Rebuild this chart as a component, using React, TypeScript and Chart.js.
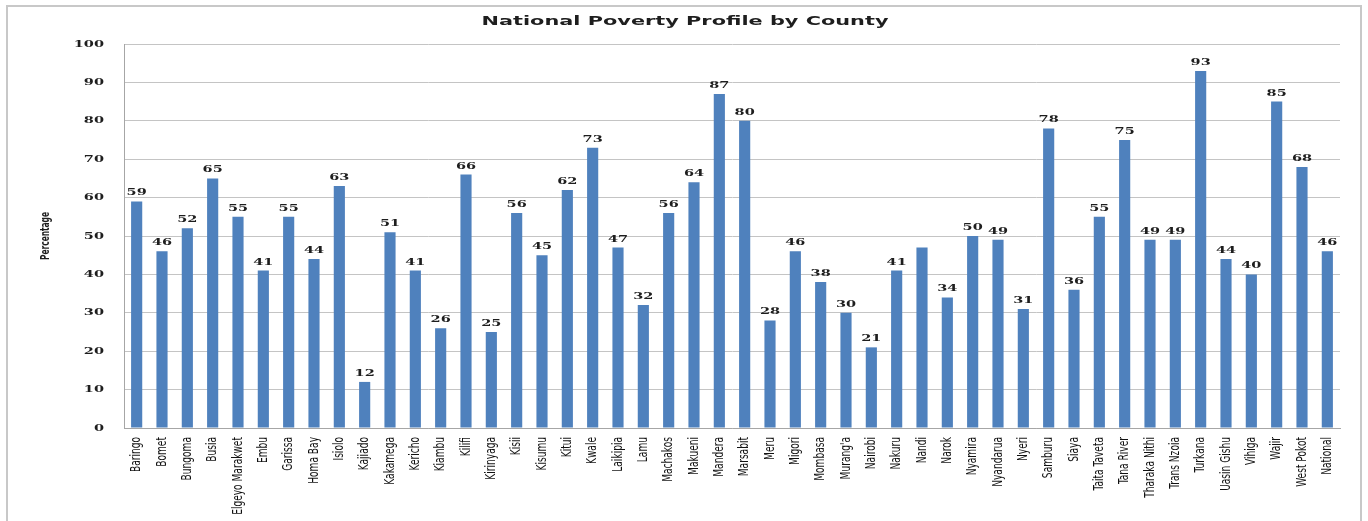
import React, { useEffect, useRef } from "react";
import { Chart, registerables } from "chart.js";

Chart.register(...registerables);

const counties = [
  "Baringo", "Bomet", "Bungoma", "Busia", "Elgeyo Marakwet", "Embu", "Garissa", "Homa Bay",
  "Isiolo", "Kajiado", "Kakamega", "Kericho", "Kiambu", "Kilifi", "Kirinyaga", "Kisii",
  "Kisumu", "Kitui", "Kwale", "Laikipia", "Lamu", "Machakos", "Makueni", "Mandera",
  "Marsabit", "Meru", "Migori", "Mombasa", "Murang'a", "Nairobi", "Nakuru", "Nandi",
  "Narok", "Nyamira", "Nyandarua", "Nyeri", "Samburu", "Siaya", "Taita Taveta", "Tana River",
  "Tharaka Nithi", "Trans Nzoia", "Turkana", "Uasin Gishu", "Vihiga", "Wajir", "West Pokot", "National",
];

const povertyRate = [
  59, 46, 52, 65, 55, 41, 55, 44,
  63, 12, 51, 41, 26, 66, 25, 56,
  45, 62, 73, 47, 32, 56, 64, 87,
  80, 28, 46, 38, 30, 21, 41, 47,
  34, 50, 49, 31, 78, 36, 55, 75,
  49, 49, 93, 44, 40, 85, 68, 46,
];

// counties whose value label is not printed in the original
const unlabeledCounties = ["Nandi"];

const yMin = 0;
const yMax = 100;
const yStep = 10;

const chartTitle = "National Poverty Profile by County";
const yAxisTitle = "Percentage";

const BAR_COLOR = "#4F81BD";
const SERIF = "'DejaVu Serif', serif";
const CONDENSED = "'DejaVu Sans Condensed', 'Liberation Sans Narrow', sans-serif";

const overlayPlugin = {
  id: "overlay",
  afterDatasetsDraw(chart: any) {
    const ctx: CanvasRenderingContext2D = chart.ctx;
    const meta = chart.getDatasetMeta(0);
    const stretch = 1.45;

    ctx.save();
    ctx.fillStyle = "#1e1e1e";
    ctx.font = `bold 10px ${SERIF}`;

    // value labels
    ctx.textAlign = "center";
    ctx.textBaseline = "alphabetic";
    meta.data.forEach((bar: any, i: number) => {
      if (unlabeledCounties.includes(counties[i])) return;
      ctx.save();
      ctx.translate(bar.x, bar.y - 6);
      ctx.scale(stretch, 1);
      ctx.fillText(String(povertyRate[i]), 0, 0);
      ctx.restore();
    });

    // y tick labels
    const ys = chart.scales.y;
    ctx.textAlign = "right";
    ctx.textBaseline = "middle";
    ys.ticks.forEach((t: any) => {
      const y = ys.getPixelForValue(t.value);
      ctx.save();
      ctx.translate(ys.right - 20, y);
      ctx.scale(stretch, 1);
      ctx.fillText(String(t.value), 0, 0);
      ctx.restore();
    });

    // x tick labels (rotated, narrow)
    const xs = chart.scales.x;
    ctx.font = `14px ${CONDENSED}`;
    ctx.fillStyle = "#111";
    ctx.textAlign = "right";
    ctx.textBaseline = "middle";
    xs.ticks.forEach((_t: any, i: number) => {
      const x = xs.getPixelForTick(i);
      ctx.save();
      ctx.translate(x, xs.top + 9);
      ctx.rotate(-Math.PI / 2);
      ctx.scale(0.72, 1);
      ctx.fillText(counties[i], 0, 0);
      ctx.restore();
    });

    // chart title
    ctx.fillStyle = "#1e1e1e";
    ctx.font = `bold 13px 'DejaVu Sans', sans-serif`;
    ctx.textAlign = "center";
    ctx.textBaseline = "middle";
    const tw = ctx.measureText(chartTitle).width;
    ctx.save();
    ctx.translate(chart.width / 2 + 1, 22);
    ctx.scale(407 / tw, 1);
    ctx.fillText(chartTitle, 0, 0);
    ctx.restore();

    // y axis title
    ctx.font = `bold 13px ${CONDENSED}`;
    const pw = ctx.measureText(yAxisTitle).width;
    ctx.save();
    ctx.translate(46, (chart.chartArea.top + chart.chartArea.bottom) / 2);
    ctx.rotate(-Math.PI / 2);
    ctx.scale(48 / pw, 1);
    ctx.fillText(yAxisTitle, 0, 0);
    ctx.restore();

    ctx.restore();
  },
};

export default function App() {
  const canvasRef = useRef<HTMLCanvasElement | null>(null);

  useEffect(() => {
    document.body.style.margin = "0";
    const canvas = canvasRef.current;
    if (!canvas) return;
    const chart = new Chart(canvas, {
      type: "bar",
      data: {
        labels: counties,
        datasets: [
          {
            data: povertyRate,
            backgroundColor: BAR_COLOR,
            borderWidth: 0,
            barPercentage: 0.44,
            categoryPercentage: 1,
          },
        ],
      },
      options: {
        animation: false,
        responsive: true,
        maintainAspectRatio: false,
        layout: { padding: { left: 0, top: 44, right: 28, bottom: 0 } },
        plugins: {
          legend: { display: false },
          title: { display: false },
          tooltip: { enabled: false },
        },
        scales: {
          x: {
            grid: { display: false },
            border: { display: true, color: "#a6a6a6", width: 1 },
            ticks: { autoSkip: false, display: false },
            afterFit(scale: any) {
              scale.height = 93;
            },
          },
          y: {
            min: yMin,
            max: yMax,
            ticks: { stepSize: yStep, display: false },
            grid: { color: "#c4c4c4", lineWidth: 1, drawTicks: false },
            border: { display: true, color: "#a6a6a6", width: 1 },
            afterFit(scale: any) {
              scale.width = 124;
            },
          },
        },
      },
      plugins: [overlayPlugin],
    });
    return () => chart.destroy();
  }, []);

  return (
    <div style={{ position: "relative", width: 1368, height: 521, overflow: "hidden", background: "#fff" }}>
      <div
        style={{
          position: "absolute",
          left: 6,
          top: 5,
          width: 1356,
          height: 540,
          border: "2px solid #c8c8c8",
          boxSizing: "border-box",
        }}
      />
      <div style={{ position: "absolute", left: 0, top: 0, width: 1368, height: 521 }}>
        <canvas ref={canvasRef} />
      </div>
    </div>
  );
}
